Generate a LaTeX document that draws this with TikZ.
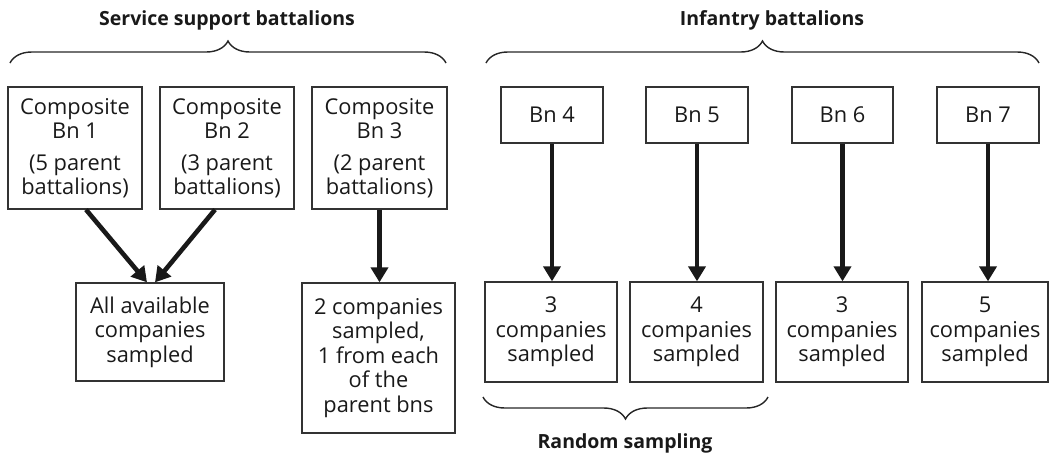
\documentclass[tikz,border=0pt]{standalone}
\usepackage{fontspec}
\setmainfont{Open Sans}
\usetikzlibrary{arrows.meta,decorations.pathreplacing,calc}

\begin{document}
\begin{tikzpicture}[x=1pt,y=-1pt,
    box/.style={draw=black!80,line width=1.3pt,align=center,inner sep=0pt,
      text=black!90,font=\fontsize{21.8}{24.5}\selectfont},
    pick/.style={draw=black!90,line width=4.6pt,
      -{Triangle[width=17pt,length=15pt]}},
    grp/.style={draw=black!85,line width=1.4pt,decorate,
      decoration={brace,amplitude=22pt}},
    title/.style={text=black!90,font=\fontsize{19.5}{24}\bfseries\selectfont}]
  \useasboundingbox (0,0) rectangle (1052,456);

  % service support side
  \node[title] (tss) at (227,20) {Service support battalions};
  \coordinate (ssl) at (10,63);
  \coordinate (ssr) at (446,63);
  \draw[grp] (ssl) -- (ssr);

  \node[box,minimum width=134pt,minimum height=122pt] (c1) at (75,148)
    {Composite\\Bn 1\\[7pt](5 parent\\battalions)};
  \node[box,minimum width=134pt,minimum height=122pt] (c2) at (227,148)
    {Composite\\Bn 2\\[7pt](3 parent\\battalions)};
  \node[box,minimum width=135pt,minimum height=122pt] (c3) at (379.5,148)
    {Composite\\Bn 3\\[7pt](2 parent\\battalions)};

  \node[box,minimum width=148pt,minimum height=98pt] (sall) at (150,332)
    {All available\\companies\\sampled};
  \node[box,minimum width=153pt,minimum height=150pt] (s3) at (378.5,358)
    {2 companies\\sampled,\\1 from each\\of the\\parent bns};

  \draw[pick] ($(c1.south)+(11,0)$) -- ($(sall.north)+(-3,0)$);
  \draw[pick] ($(c2.south)+(-12,0)$) -- ($(sall.north)+(5,0)$);
  \draw[pick] (c3.south) -- (c3.south |- s3.north);

  % infantry side
  \node[title] (tinf) at (772,20) {Infantry battalions};
  \coordinate (infl) at (486,63);
  \coordinate (infr) at (1039,63);
  \draw[grp] (infl) -- (infr);

  \node[box,minimum width=102pt,minimum height=56pt] (b4) at (552,115) {Bn 4};
  \node[box,minimum width=102pt,minimum height=56pt] (b5) at (697,115) {Bn 5};
  \node[box,minimum width=101pt,minimum height=56pt] (b6) at (842.5,115) {Bn 6};
  \node[box,minimum width=102pt,minimum height=56pt] (b7) at (988,115) {Bn 7};

  \node[box,minimum width=132pt,minimum height=100pt] (s4) at (551,332)
    {3\\companies\\sampled};
  \node[box,minimum width=133pt,minimum height=100pt] (s5) at (696.5,332)
    {4\\companies\\sampled};
  \node[box,minimum width=132pt,minimum height=100pt] (s6) at (842,332)
    {3\\companies\\sampled};
  \node[box,minimum width=126pt,minimum height=100pt] (s7) at (985,332)
    {5\\companies\\sampled};

  \draw[pick] (b4.south) -- (b4.south |- s4.north);
  \draw[pick] (b5.south) -- (b5.south |- s5.north);
  \draw[pick] (b6.south) -- (b6.south |- s6.north);
  \draw[pick] (b7.south) -- (b7.south |- s7.north);

  % random sampling
  \coordinate (rsr) at (768,397);
  \coordinate (rsl) at (483,397);
  \draw[grp] (rsr) -- (rsl);
  \node[title] (trs) at (625,443) {Random sampling};
\end{tikzpicture}
\end{document}
